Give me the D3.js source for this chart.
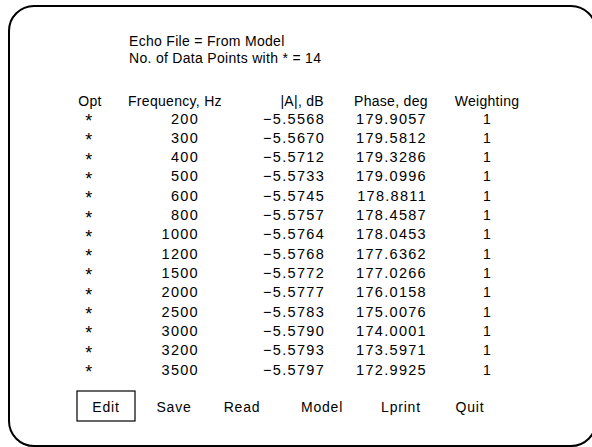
<!DOCTYPE html>
<html>
<head>
<meta charset="utf-8">
<script src="https://cdn.jsdelivr.net/npm/d3@7"></script>
<style>
  body { margin: 0; background: #fff; }
  text { font-family: "Liberation Sans", Arial, sans-serif; font-size: 14px; letter-spacing: 0.3px; fill: #000; }
  .num { font-size: 14.5px; letter-spacing: 1.3px; }
  .star { font-size: 18px; }
  .btn { letter-spacing: 0.8px; }
</style>
</head>
<body>
<div id="chart"></div>
<script>
// table data
var frequencies = [200, 300, 400, 500, 600, 800, 1000, 1200, 1500, 2000, 2500, 3000, 3200, 3500];
var magnitudes = ["-5.5568", "-5.5670", "-5.5712", "-5.5733", "-5.5745", "-5.5757", "-5.5764",
  "-5.5768", "-5.5772", "-5.5777", "-5.5783", "-5.5790", "-5.5793", "-5.5797"];
var phases = ["179.9057", "179.5812", "179.3286", "179.0996", "178.8811", "178.4587", "178.0453",
  "177.6362", "177.0266", "176.0158", "175.0076", "174.0001", "173.5971", "172.9925"];
var weights = [1, 1, 1, 1, 1, 1, 1, 1, 1, 1, 1, 1, 1, 1];
var columns = ["Opt", "Frequency, Hz", "|A|, dB", "Phase, deg", "Weighting"];
var buttons = ["Edit", "Save", "Read", "Model", "Lprint", "Quit"];
var infoLines = ["Echo File = From Model", "No. of Data Points with * = " + frequencies.length];

var svgWidth = 592;
var svgHeight = 447;

var svg = d3.select("#chart")
  .append("svg")
  .attr("width", svgWidth)
  .attr("height", svgHeight);

// rounded frame, runs off the right and bottom edges
svg.append("rect")
  .attr("x", 9)
  .attr("y", 6)
  .attr("width", 587)
  .attr("height", 440)
  .attr("rx", 25)
  .attr("fill", "none")
  .attr("stroke", "#000")
  .attr("stroke-width", 2);

// header lines
svg.selectAll(".info")
  .data(infoLines)
  .enter()
  .append("text")
  .attr("class", "info")
  .attr("x", 129)
  .attr("y", (d, i) => 46 + i * 17)
  .text(d => d);

// row positions
var rowIdx = d3.range(frequencies.length);
var y = d3.scalePoint()
  .domain(rowIdx)
  .range([123.5, 374.5]);

// column headers
var headX = [90, 128, 324, 354, 487];
var headAnchor = ["middle", "start", "end", "start", "middle"];
svg.selectAll(".head")
  .data(columns)
  .enter()
  .append("text")
  .attr("class", "head")
  .attr("x", (d, i) => headX[i])
  .attr("y", 106)
  .attr("text-anchor", (d, i) => headAnchor[i])
  .text(d => d);

var rows = svg.selectAll(".row")
  .data(rowIdx)
  .enter()
  .append("g")
  .attr("class", "row")
  .attr("transform", d => `translate(0, ${y(d)})`);

rows.append("text")
  .attr("class", "star")
  .attr("x", 89)
  .attr("dy", 3.5)
  .attr("text-anchor", "middle")
  .text("*");

rows.append("text")
  .attr("class", "num")
  .attr("x", 199)
  .attr("text-anchor", "end")
  .text(d => frequencies[d]);

rows.append("text")
  .attr("class", "num")
  .attr("x", 325)
  .attr("text-anchor", "end")
  .text(d => magnitudes[d].replace("-", "\u2212"));

rows.append("text")
  .attr("class", "num")
  .attr("x", 427)
  .attr("text-anchor", "end")
  .text(d => phases[d]);

rows.append("text")
  .attr("x", 487)
  .attr("text-anchor", "middle")
  .text(d => weights[d]);

// buttons along the bottom
var btnX = [106, 174, 242, 322, 401, 470];
svg.append("rect")
  .attr("x", btnX[0] - 29)
  .attr("y", 391)
  .attr("width", 58)
  .attr("height", 30)
  .attr("fill", "none")
  .attr("stroke", "#000")
  .attr("stroke-width", 1.2);

svg.selectAll(".btn")
  .data(buttons)
  .enter()
  .append("text")
  .attr("class", "btn")
  .attr("x", (d, i) => btnX[i])
  .attr("y", 411.5)
  .attr("text-anchor", "middle")
  .text(d => d);
</script>
</body>
</html>
